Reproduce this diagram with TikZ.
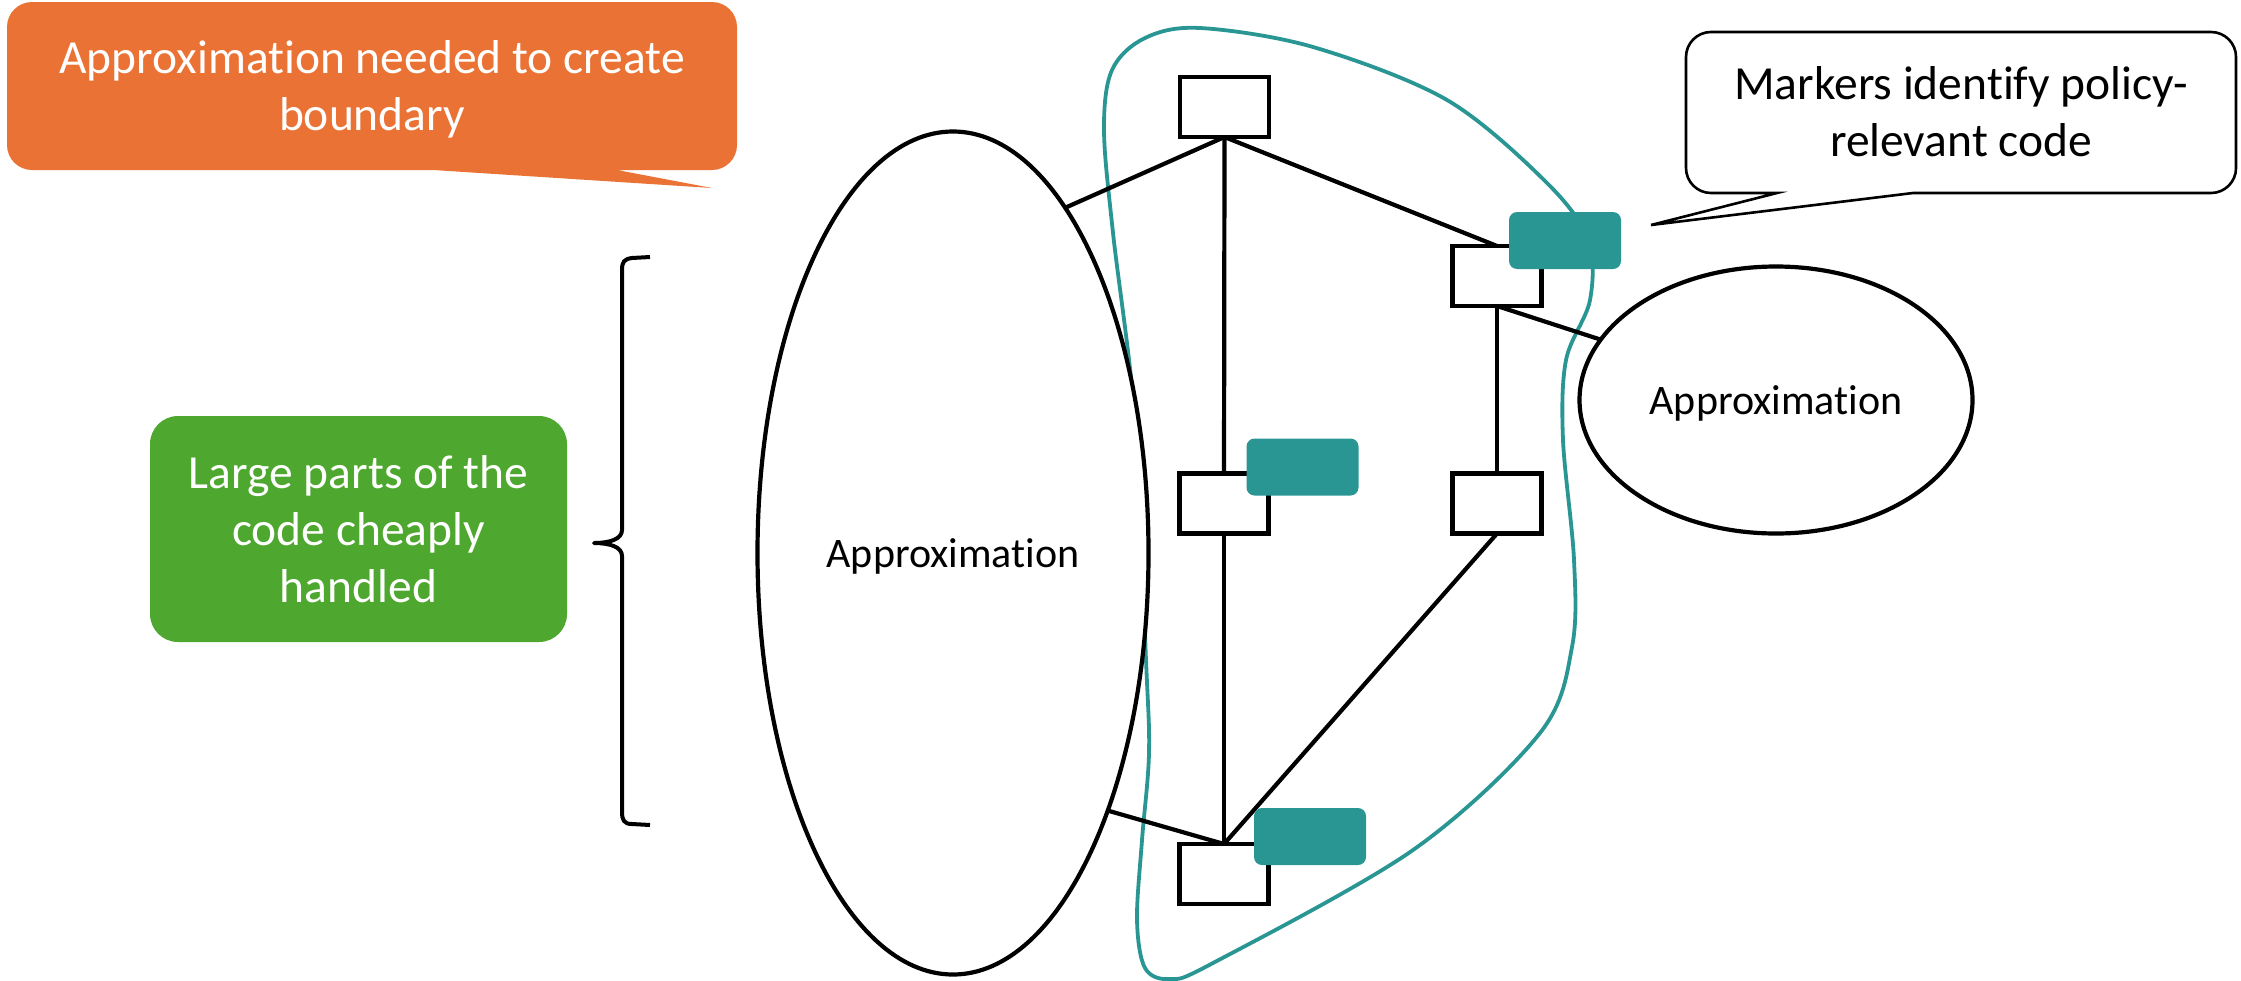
\documentclass[tikz,border=0pt]{standalone}
\usepackage{fontspec}
\setmainfont{Carlito}[Ligatures=NoCommon]
\usetikzlibrary{shapes.geometric}
\definecolor{calloutorange}{HTML}{EA7234}
\definecolor{notegreen}{HTML}{4EA72E}
\definecolor{markerteal}{HTML}{2A9694}

\begin{document}
\begin{tikzpicture}[x=0.5pt,y=0.5pt,
  block/.style={draw, line width=2.2pt, fill=white, minimum width=44.5pt,
    minimum height=30pt, inner sep=0pt, outer sep=0pt},
  marker/.style={fill=markerteal, rounded corners=4pt, minimum width=56pt,
    minimum height=28.5pt, inner sep=0pt, outer sep=0pt},
  region/.style={ellipse, draw, line width=2.1pt, fill=white, inner sep=0pt,
    outer sep=0pt, text depth=0pt, font=\fontsize{21}{25}\selectfont},
  link/.style={line width=2.1pt},
  bigtext/.style={font=\fontsize{23.75}{28.5}\selectfont, align=center,
    inner sep=0pt},
]
\useasboundingbox (0,0) rectangle (2241,-980);

% boundary around the policy-relevant part of the code
\draw[markerteal, line width=1.9pt] plot[smooth cycle, tension=0.55] coordinates {
  (1200,-28) (1313,-47) (1447,-100) (1547,-183) (1588,-240)
  (1590,-300) (1566,-360) (1563,-440) (1574,-560) (1572,-647)
  (1540,-733) (1413,-850) (1213,-963) (1170,-979)
  (1145,-968) (1137,-920) (1142,-840) (1149,-753) (1146,-660)
  (1135,-420) (1113,-233) (1104,-130) (1112,-70) (1145,-38)};

% approximated regions
\node[region, minimum width=195.5pt, minimum height=421.5pt] (L) at (953,-553) {Approximation};
\node[region, minimum width=196.5pt, minimum height=133.5pt] (R) at (1776,-400) {Approximation};

% code blocks
\node[block] (A) at (1224.5,-107) {};
\node[block] (B) at (1497,-276) {};
\node[block] (C) at (1224,-503.5) {};
\node[block] (D) at (1497,-503.5) {};
\node[block] (E) at (1224,-874) {};

% control-flow edges
\draw[link] (A.south) -- (L.72.7);
\draw[link] (A.south) -- (B.north);
\draw[link] (A.south) -- (C.north);
\draw[link] (C.south) -- (E.north);
\draw[link] (B.south) -- (D.north);
\draw[link] (B.south) -- (R.161.7);
\draw[link] (D.south) -- (E.north);
\draw[link] (E.north) -- (L.-59.7);

% markers
\node[marker] (mB) at (1565,-240.5) {};
\node[marker] (mC) at (1302.5,-467) {};
\node[marker] (mE) at (1310,-836.5) {};

% orange callout
\fill[calloutorange] (433,-170) -- (712,-188) -- (617,-170) -- (712,-170)
  arc (270:360:25) -- (737,-27) arc (0:90:25) -- (32,-2) arc (90:180:25)
  -- (7,-145) arc (180:270:25) -- cycle;
\node[bigtext, text=white] (warn) at (372,-89) {Approximation needed to create\\boundary};

% white callout
\draw[line width=1.3pt, fill=white] (1777,-193) -- (1651,-225) -- (1913,-193) -- (2211,-193)
  arc (270:360:25) -- (2236,-57) arc (0:90:25) -- (1711,-32) arc (90:180:25)
  -- (1686,-168) arc (180:270:25) -- cycle;
\node[bigtext] (note) at (1961,-112) {Markers identify policy-\\relevant code};

% green note and brace
\node[bigtext, text=white, fill=notegreen, rounded corners=14pt,
  minimum width=208.5pt, minimum height=113pt] (cheap) at (358.5,-529)
  {Large parts of the\\code cheaply\\handled};
\draw[line width=2pt, line join=round] (650,-257) -- (632,-258)
  .. controls (624,-259) and (622,-262) .. (622,-270) -- (622,-530)
  .. controls (622,-539) and (610,-543) .. (594,-543)
  .. controls (610,-543) and (622,-547) .. (622,-556) -- (622,-812)
  .. controls (622,-820) and (624,-824) .. (632,-824) -- (650,-825);
\end{tikzpicture}
\end{document}
